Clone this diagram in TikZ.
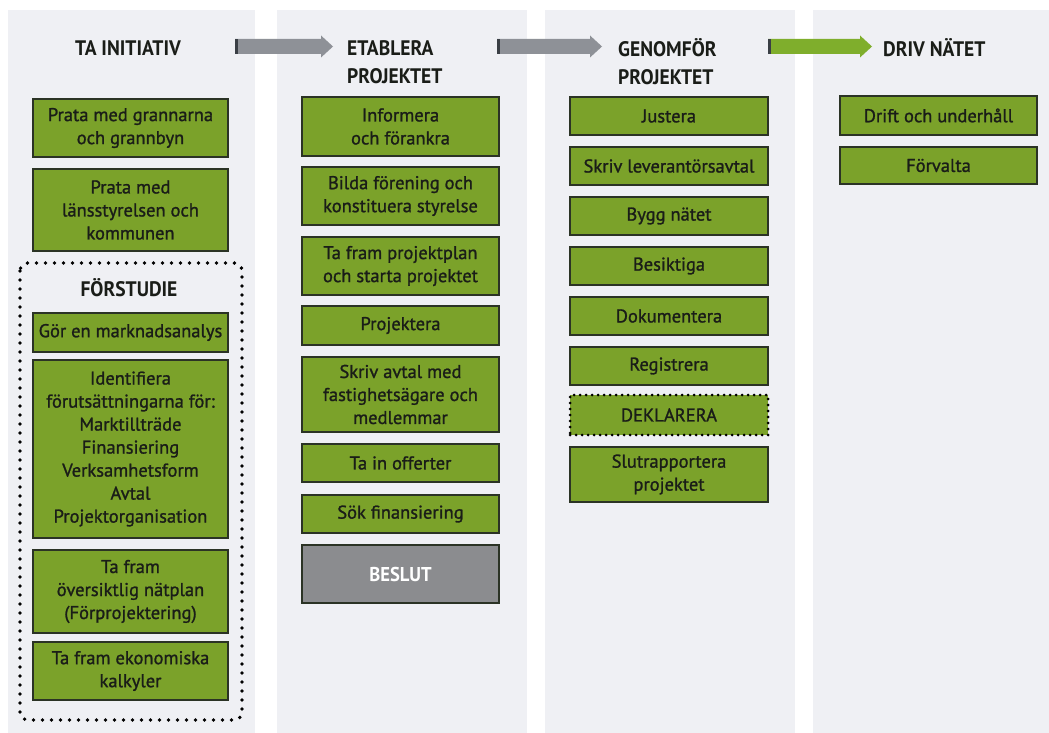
\documentclass[tikz,border=0pt]{standalone}
\usepackage{fontspec}
\setmainfont{PT Sans}
\newfontfamily\boxfont[FakeBold=1.2]{PT Sans}
\newfontfamily\headfont[FakeStretch=0.93]{PT Sans Bold}
\definecolor{panel}{HTML}{EFF0F4}
\definecolor{boxgreen}{HTML}{7BA22A}
\definecolor{boxedge}{HTML}{2B3325}
\definecolor{arrgrey}{HTML}{8E9197}
\definecolor{arrgreen}{HTML}{7FAE2C}
\definecolor{arredge}{HTML}{3A3F45}
\definecolor{beslutgrey}{HTML}{8B8C8F}
\definecolor{ink}{HTML}{1A1D18}
\begin{document}
\begin{tikzpicture}[x=1pt,y=-1pt,
  gbox/.style={draw=boxedge, line width=1.6pt, fill=boxgreen, text=ink,
    font=\boxfont\fontsize{18.5}{23}\selectfont, align=center, inner sep=0pt},
  c1/.style={gbox, minimum width=195pt},
  c2/.style={gbox, minimum width=197pt},
  c3/.style={gbox, minimum width=198pt},
  c4/.style={gbox, minimum width=197pt},
  head/.style={font=\headfont\fontsize{21}{28}\selectfont, text=ink, inner sep=0pt, align=left},
  dotframe/.style={draw=black, line width=3.8pt, dash pattern=on 0pt off 9pt, line cap=round, rounded corners=8pt}
]
\useasboundingbox (0,0) rectangle (1049,733);
\fill[white] (0,0) rectangle (1049,733);
% panels
\fill[panel] (8,10) rectangle (255,733);
\fill[panel] (277,10) rectangle (527,733);
\fill[panel] (545,10) rectangle (795,733);
\fill[panel] (813,10) rectangle (1049,733);

% headers
\node[head, anchor=center] (h1) at (128,48) {TA INITIATIV};
\node[head, anchor=west] (h2) at (347,62) {ETABLERA\\PROJEKTET};
\node[head, anchor=west] (h3) at (618,62) {GENOMFÖR\\PROJEKTET};
\node[head, anchor=west] (h4) at (883,48) {DRIV NÄTET};

% block arrows
\newcommand\blockarr[4]{% x0, x1 (tip), fill, y
  \fill[#3] (#1,#4-7.5) -- (#2-12,#4-7.5) -- (#2-12,#4-11) -- (#2,#4) -- (#2-12,#4+11) -- (#2-12,#4+7.5) -- (#1,#4+7.5) -- cycle;
  \fill[arredge] (#1,#4-7.5) rectangle (#1+2.5,#4+7.5);}
\blockarr{235}{333}{arrgrey}{46.5}
\blockarr{497}{602}{arrgrey}{46.5}
\blockarr{768}{872}{arrgreen}{46.5}

% column 1
\node[c1, minimum height=58pt] (c1a) at (130.5,128) {Prata med grannarna\\och grannbyn};
\node[c1, minimum height=82pt] (c1b) at (130.5,210) {Prata med\\länsstyrelsen och\\kommunen};
\draw[dotframe] (20,263) rectangle (242,720);
\node[head, anchor=center] (fs) at (129,288) {FÖRSTUDIE};
\node[c1, minimum height=39pt] (c1c) at (130.5,332.5) {Gör en marknadsanalys};
\node[c1, minimum height=178pt] (c1d) at (130.5,449) {Identifiera\\förutsättningarna för:\\Marktillträde\\Finansiering\\Verksamhetsform\\Avtal\\Projektorganisation};
\node[c1, minimum height=83pt] (c1e) at (130.5,591.5) {Ta fram\\översiktlig nätplan\\(Förprojektering)};
\node[c1, minimum height=58pt] (c1f) at (130.5,671) {Ta fram ekonomiska\\kalkyler};

% column 2
\node[c2, minimum height=59pt] (c2a) at (400.5,126.5) {Informera\\och förankra};
\node[c2, minimum height=58pt] (c2b) at (400.5,196) {Bilda förening och\\konstituera styrelse};
\node[c2, minimum height=58pt] (c2c) at (400.5,266) {Ta fram projektplan\\och starta projektet};
\node[c2, minimum height=39pt] (c2d) at (400.5,325.5) {Projektera};
\node[c2, minimum height=75pt] (c2e) at (400.5,394.5) {Skriv avtal med\\fastighetsägare och\\medlemmar};
\node[c2, minimum height=38pt] (c2f) at (400.5,463) {Ta in offerter};
\node[c2, minimum height=38pt] (c2g) at (400.5,514) {Sök finansiering};
\node[c2, minimum height=58pt, fill=beslutgrey, text=white, font=\headfont\fontsize{20}{22}\selectfont] (c2h) at (400.5,574) {BESLUT};

% column 3
\node[c3, minimum height=38pt] (c3a) at (669,116) {Justera};
\node[c3, minimum height=38pt] (c3b) at (669,166) {Skriv leverantörsavtal};
\node[c3, minimum height=38pt] (c3c) at (669,216) {Bygg nätet};
\node[c3, minimum height=38pt] (c3d) at (669,266) {Besiktiga};
\node[c3, minimum height=38pt] (c3e) at (669,316) {Dokumentera};
\node[c3, minimum height=38pt] (c3f) at (669,366) {Registrera};
\node[c3, minimum height=40pt, draw=black, line width=3pt, dash pattern=on 0pt off 6pt, line cap=round] (c3g) at (669,415) {DEKLARERA};
\node[c3, minimum height=55pt] (c3h) at (669,474.5) {Slutrapportera\\projektet};

% column 4
\node[c4, minimum height=39pt] (c4a) at (938.5,115.5) {Drift och underhåll};
\node[c4, minimum height=37pt] (c4b) at (938.5,165.5) {Förvalta};
\end{tikzpicture}
\end{document}
